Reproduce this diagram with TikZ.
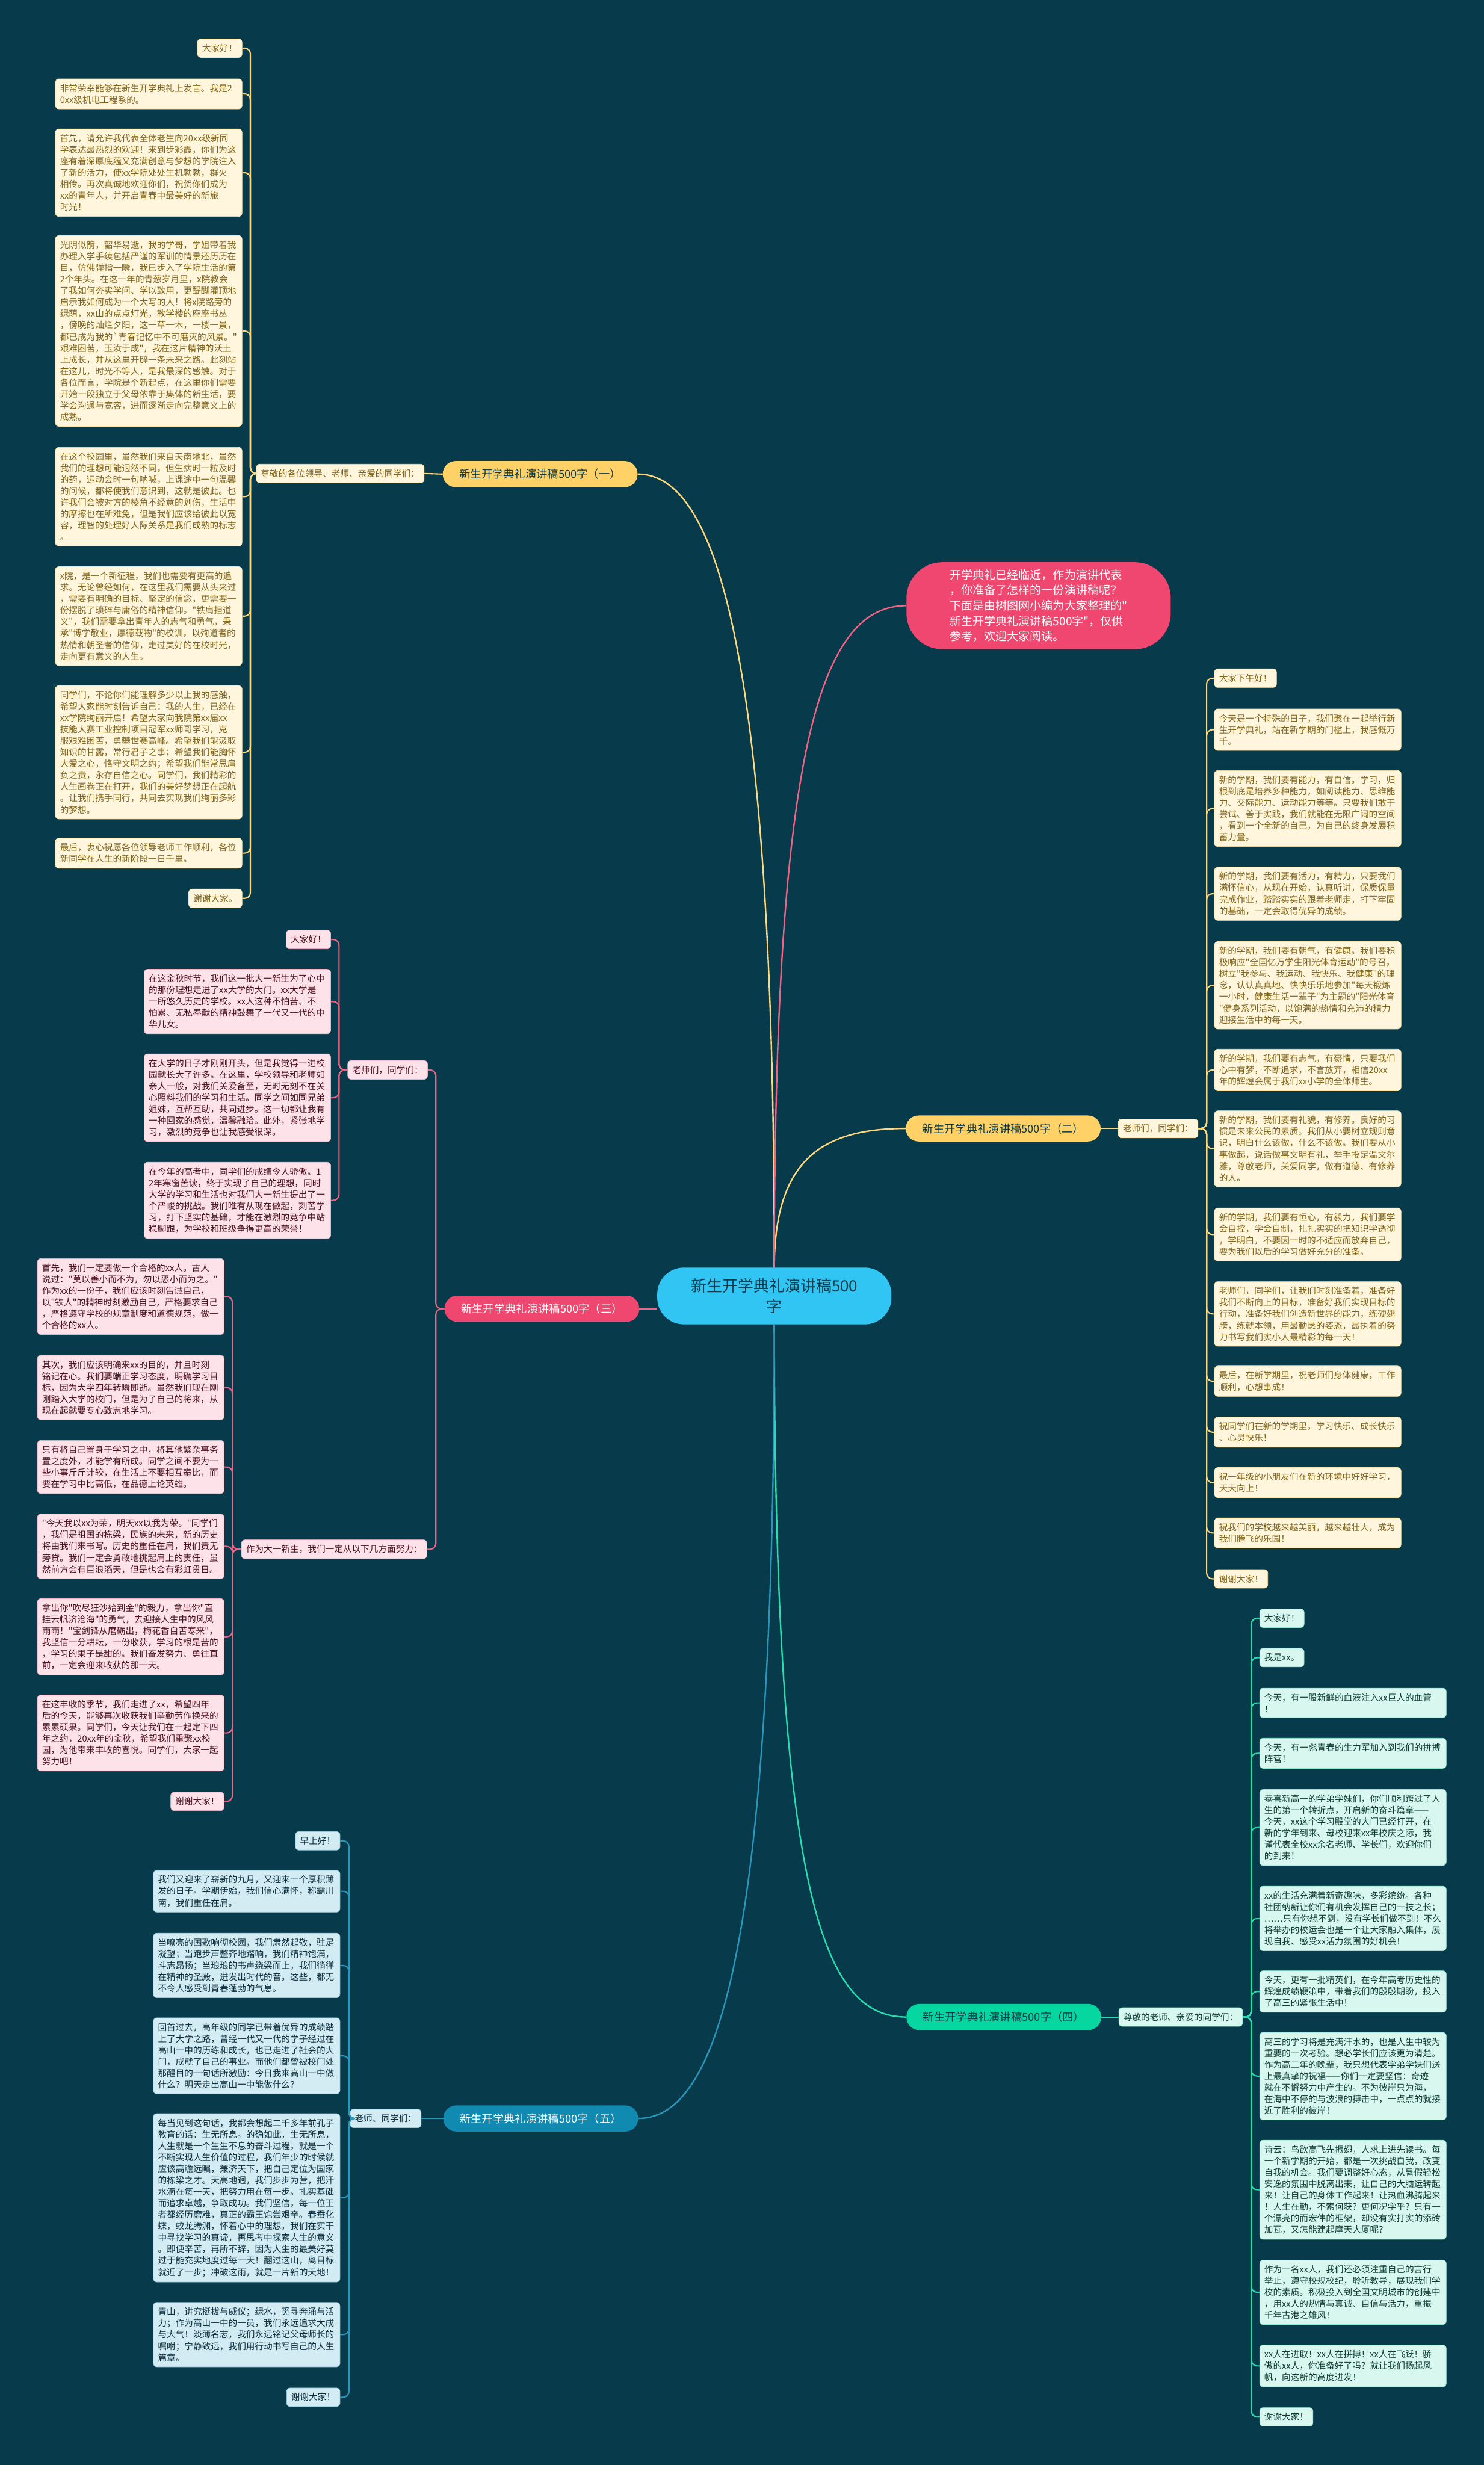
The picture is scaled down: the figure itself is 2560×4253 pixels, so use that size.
\documentclass[tikz,border=0pt]{standalone}
\usepackage{fontspec}
\newfontfamily\cjk{Noto Sans CJK SC}
\definecolor{bg}{HTML}{073B4C}
\definecolor{yel}{HTML}{FFD166}
\definecolor{pnk}{HTML}{EF476F}
\definecolor{grn}{HTML}{06D6A0}
\definecolor{blu}{HTML}{118AB2}
\definecolor{ctr}{HTML}{30C5F3}
\definecolor{yfill}{HTML}{FFF6DD}
\definecolor{ytext}{HTML}{7F6418}
\definecolor{pfill}{HTML}{FDE3E9}
\definecolor{ptext}{HTML}{4A1020}
\definecolor{gfill}{HTML}{D8F8EF}
\definecolor{gtext}{HTML}{0E3B35}
\definecolor{bfill}{HTML}{D3EBF3}
\definecolor{btext}{HTML}{0B2E3D}
\newcommand\fleaf{\cjk\fontsize{15.2}{19.8}\selectfont}
\newcommand\fbr{\cjk\fontsize{19}{24}\selectfont}
\newcommand\fctr{\cjk\fontsize{27}{35}\selectfont}
\newcommand\fintro{\cjk\fontsize{19.8}{26.6}\selectfont}
\tikzset{
  leafbase/.style={rectangle, rounded corners=6pt, inner xsep=8pt, inner ysep=9pt, align=left, font=\fleaf, line width=0.8pt},
  wide/.style={text width=306pt},
  yl/.style={leafbase, fill=yfill, draw=yel!55!yfill, text=ytext},
  pl/.style={leafbase, fill=pfill, draw=pnk!35!pfill, text=ptext},
  gl/.style={leafbase, fill=gfill, draw=grn!35!gfill, text=gtext},
  bl/.style={leafbase, fill=bfill, draw=blu!35!bfill, text=btext},
  brnode/.style={rectangle, rounded corners=22pt, minimum height=45pt, minimum width=336pt, inner sep=0pt, font=\fbr},
  yc/.style={draw=yel!85!white, line width=2.2pt, rounded corners=10pt},
  pc/.style={draw=pnk!85!white, line width=2.2pt, rounded corners=10pt},
  gc/.style={draw=grn!85!white, line width=2.2pt, rounded corners=10pt},
  bc/.style={draw=blu!90!white, line width=2.2pt, rounded corners=10pt},
}
\begin{document}
\begin{tikzpicture}[x=1pt,y=-1pt]
\fill[bg] (0,0) rectangle (2560,4253);
\useasboundingbox (0,0) rectangle (2560,4253);

% ---------- main nodes
\node[rectangle, rounded corners=46pt, fill=ctr, minimum width=404pt, minimum height=98pt, align=center, font=\fctr, text=bg] (c) at (1336,2236) {新生开学典礼演讲稿500\\字};
\node[rectangle, rounded corners=62pt, fill=pnk, minimum width=456pt, minimum height=150pt, align=left, font=\fintro, text=white] (intro) at (1792,1045) {开学典礼已经临近，作为演讲代表\\，你准备了怎样的一份演讲稿呢？\\下面是由树图网小编为大家整理的"\\新生开学典礼演讲稿500字"，仅供\\参考，欢迎大家阅读。};
\node[brnode, fill=yel, text=bg] (b1) at (932,818) {新生开学典礼演讲稿500字（一）};
\node[brnode, fill=yel, text=bg] (b2) at (1731,1947) {新生开学典礼演讲稿500字（二）};
\node[brnode, fill=pnk, text=white] (b3) at (935,2258) {新生开学典礼演讲稿500字（三）};
\node[brnode, fill=grn, text=bg] (b4) at (1732,3480) {新生开学典礼演讲稿500字（四）};
\node[brnode, fill=blu, text=white] (b5) at (933,3655) {新生开学典礼演讲稿500字（五）};

\draw[yel!85!white, line width=2.5pt] (c.north) .. controls +(0,-1090) and +(130,0) .. (b1.east);
\draw[yel!85!white, line width=2.5pt] (c.north) .. controls +(0,-186) and +(-144,0) .. (b2.west);
\draw[pnk!85!white, line width=2.5pt] (c.north) .. controls +(0,-890) and +(-150,0) .. (intro.west);
\draw[pnk!85!white, line width=2.5pt] (b3.east) -- (b3.east -| c.west);
\draw[grn!85!white, line width=2.5pt] (c.south) .. controls +(0,1000) and +(-140,0) .. (b4.west);
\draw[blu!90!white, line width=2.5pt] (c.south) .. controls +(0,1110) and +(130,0) .. (b5.east);

% ---------- branch 1
\node[yl] (lab1) at (587,817) {尊敬的各位领导、老师、亲爱的同学们：};
\draw[yc] (b1.west) -- (lab1.east);
\coordinate (sp1) at (432,0);
\node[yl, anchor=east] (b1l1) at (418,83) {大家好！};
\node[yl, wide, anchor=east] (b1l2) at (418,162) {非常荣幸能够在新生开学典礼上发言。我是2\\0xx级机电工程系的。};
\node[yl, wide, anchor=east] (b1l3) at (418,298) {首先，请允许我代表全体老生向20xx级新同\\学表达最热烈的欢迎！来到步彩霞，你们为这\\座有着深厚底蕴又充满创意与梦想的学院注入\\了新的活力，使xx学院处处生机勃勃，群火\\相传。再次真诚地欢迎你们，祝贺你们成为\\xx的青年人，并开启青春中最美好的新旅\\时光！};
\node[yl, wide, anchor=east] (b1l4) at (418,571) {光阴似箭，韶华易逝，我的学哥，学姐带着我\\办理入学手续包括严谨的军训的情景还历历在\\目，仿佛弹指一瞬，我已步入了学院生活的第\\2个年头。在这一年的青葱岁月里，x院教会\\了我如何夯实学问、学以致用，更醍醐灌顶地\\启示我如何成为一个大写的人！将x院路旁的\\绿荫，xx山的点点灯光，教学楼的座座书丛\\，傍晚的灿烂夕阳，这一草一木，一楼一景，\\都已成为我的`青春记忆中不可磨灭的风景。"\\艰难困苦，玉汝于成"，我在这片精神的沃土\\上成长，并从这里开辟一条未来之路。此刻站\\在这儿，时光不等人，是我最深的感触。对于\\各位而言，学院是个新起点，在这里你们需要\\开始一段独立于父母依靠于集体的新生活，要\\学会沟通与宽容，进而逐渐走向完整意义上的\\成熟。};
\node[yl, wide, anchor=east] (b1l5) at (418,857) {在这个校园里，虽然我们来自天南地北，虽然\\我们的理想可能迥然不同，但生病时一粒及时\\的药，运动会时一句呐喊，上课途中一句温馨\\的问候，都将使我们意识到，这就是彼此。也\\许我们会被对方的棱角不经意的划伤，生活中\\的摩擦也在所难免，但是我们应该给彼此以宽\\容，理智的处理好人际关系是我们成熟的标志\\。};
\node[yl, wide, anchor=east] (b1l6) at (418,1063) {x院，是一个新征程，我们也需要有更高的追\\求。无论曾经如何，在这里我们需要从头来过\\，需要有明确的目标、坚定的信念，更需要一\\份摆脱了琐碎与庸俗的精神信仰。"铁肩担道\\义"，我们需要拿出青年人的志气和勇气，秉\\承"博学敬业，厚德载物"的校训，以殉道者的\\热情和朝圣者的信仰，走过美好的在校时光，\\走向更有意义的人生。};
\node[yl, wide, anchor=east] (b1l7) at (418,1298) {同学们，不论你们能理解多少以上我的感触，\\希望大家能时刻告诉自己：我的人生，已经在\\xx学院绚丽开启！希望大家向我院第xx届xx\\技能大赛工业控制项目冠军xx师哥学习，克\\服艰难困苦，勇攀世赛高峰。希望我们能汲取\\知识的甘露，常行君子之事；希望我们能胸怀\\大爱之心，恪守文明之约；希望我们能常思肩\\负之责，永存自信之心。同学们，我们精彩的\\人生画卷正在打开，我们的美好梦想正在起航\\。让我们携手同行，共同去实现我们绚丽多彩\\的梦想。};
\node[yl, wide, anchor=east] (b1l8) at (418,1472) {最后，衷心祝愿各位领导老师工作顺利，各位\\新同学在人生的新阶段一日千里。};
\node[yl, anchor=east] (b1l9) at (418,1550) {谢谢大家。};
\foreach \i in {1,...,9} \draw[yc] (lab1.west) -- (lab1.west -| sp1) |- (b1l\i.east);

% ---------- branch 2
\node[yl, anchor=west] (lab2) at (1929,1947) {老师们，同学们：};
\draw[yc] (b2.east) -- (lab2.west);
\coordinate (sp2) at (2082,0);
\node[yl, anchor=west] (b2l1) at (2095,1170) {大家下午好！};
\node[yl, wide, anchor=west] (b2l2) at (2095,1259) {今天是一个特殊的日子，我们聚在一起举行新\\生开学典礼，站在新学期的门槛上，我感慨万\\千。};
\node[yl, wide, anchor=west] (b2l3) at (2095,1395) {新的学期，我们要有能力，有自信。学习，归\\根到底是培养多种能力，如阅读能力、思维能\\力、交际能力、运动能力等等。只要我们敢于\\尝试、善于实践，我们就能在无限广阔的空间\\，看到一个全新的自己，为自己的终身发展积\\蓄力量。};
\node[yl, wide, anchor=west] (b2l4) at (2095,1542) {新的学期，我们要有活力，有精力，只要我们\\满怀信心，从现在开始，认真听讲，保质保量\\完成作业，踏踏实实的跟着老师走，打下牢固\\的基础，一定会取得优异的成绩。};
\node[yl, wide, anchor=west] (b2l5) at (2095,1700) {新的学期，我们要有朝气，有健康。我们要积\\极响应"全国亿万学生阳光体育运动"的号召，\\树立"我参与、我运动、我快乐、我健康"的理\\念，认认真真地、快快乐乐地参加"每天锻炼\\一小时，健康生活一辈子"为主题的"阳光体育\\"健身系列活动，以饱满的热情和充沛的精力\\迎接生活中的每一天。};
\node[yl, wide, anchor=west] (b2l6) at (2095,1846) {新的学期，我们要有志气，有豪情，只要我们\\心中有梦，不断追求，不言放弃，相信20xx\\年的辉煌会属于我们xx小学的全体师生。};
\node[yl, wide, anchor=west] (b2l7) at (2095,1982) {新的学期，我们要有礼貌，有修养。良好的习\\惯是未来公民的素质。我们从小要树立规则意\\识，明白什么该做，什么不该做。我们要从小\\事做起，说话做事文明有礼，举手投足温文尔\\雅，尊敬老师，关爱同学，做有道德、有修养\\的人。};
\node[yl, wide, anchor=west] (b2l8) at (2095,2130) {新的学期，我们要有恒心，有毅力，我们要学\\会自控，学会自制，扎扎实实的把知识学透彻\\，学明白，不要因一时的不适应而放弃自己，\\要为我们以后的学习做好充分的准备。};
\node[yl, wide, anchor=west] (b2l9) at (2095,2267) {老师们，同学们，让我们时刻准备着，准备好\\我们不断向上的目标，准备好我们实现目标的\\行动，准备好我们创造新世界的能力，练硬翅\\膀，练就本领，用最勤恳的姿态，最执着的努\\力书写我们实小人最精彩的每一天！};
\node[yl, wide, anchor=west] (b2l10) at (2095,2383) {最后，在新学期里，祝老师们身体健康，工作\\顺利，心想事成！};
\node[yl, wide, anchor=west] (b2l11) at (2095,2471) {祝同学们在新的学期里，学习快乐、成长快乐\\、心灵快乐！};
\node[yl, wide, anchor=west] (b2l12) at (2095,2558) {祝一年级的小朋友们在新的环境中好好学习，\\天天向上！};
\node[yl, wide, anchor=west] (b2l13) at (2095,2645) {祝我们的学校越来越美丽，越来越壮大，成为\\我们腾飞的乐园！};
\node[yl, anchor=west] (b2l14) at (2095,2724) {谢谢大家！};
\foreach \i in {1,...,14} \draw[yc] (lab2.east) -- (lab2.east -| sp2) |- (b2l\i.west);

% ---------- branch 3
\coordinate (sp3) at (752,0);
\node[pl, anchor=east] (lab3a) at (738,1846) {老师们，同学们：};
\node[pl, anchor=east] (lab3b) at (737,2673) {作为大一新生，我们一定从以下几方面努力：};
\draw[pc] (b3.west) -- (b3.west -| sp3) |- (lab3a.east);
\draw[pc] (b3.west) -- (b3.west -| sp3) |- (lab3b.east);
\coordinate (sp3a) at (585,0);
\node[pl, anchor=east] (b3a1) at (571,1621) {大家好！};
\node[pl, wide, anchor=east] (b3a2) at (571,1728) {在这金秋时节，我们这一批大一新生为了心中\\的那份理想走进了xx大学的大门。xx大学是\\一所悠久历史的学校。xx人这种不怕苦、不\\怕累、无私奉献的精神鼓舞了一代又一代的中\\华儿女。};
\node[pl, wide, anchor=east] (b3a3) at (571,1894) {在大学的日子才刚刚开头，但是我觉得一进校\\园就长大了许多。在这里，学校领导和老师如\\亲人一般，对我们关爱备至，无时无刻不在关\\心照料我们的学习和生活。同学之间如同兄弟\\姐妹，互帮互助，共同进步。这一切都让我有\\一种回家的感觉，温馨融洽。此外，紧张地学\\习，激烈的竞争也让我感受很深。};
\node[pl, wide, anchor=east] (b3a4) at (571,2071) {在今年的高考中，同学们的成绩令人骄傲。1\\2年寒窗苦读，终于实现了自己的理想，同时\\大学的学习和生活也对我们大一新生提出了一\\个严峻的挑战。我们唯有从现在做起，刻苦学\\习，打下坚实的基础，才能在激烈的竞争中站\\稳脚跟，为学校和班级争得更高的荣誉！};
\foreach \i in {1,...,4} \draw[pc] (lab3a.west) -- (lab3a.west -| sp3a) |- (b3a\i.east);
\coordinate (sp3b) at (401,0);
\node[pl, wide, anchor=east] (b3b1) at (387,2237) {首先，我们一定要做一个合格的xx人。古人\\说过："莫以善小而不为，勿以恶小而为之。"\\作为xx的一份子，我们应该时刻告诫自己，\\以"铁人"的精神时刻激励自己，严格要求自己\\，严格遵守学校的规章制度和道德规范，做一\\个合格的xx人。};
\node[pl, wide, anchor=east] (b3b2) at (387,2394) {其次，我们应该明确来xx的目的，并且时刻\\铭记在心。我们要端正学习态度，明确学习目\\标，因为大学四年转瞬即逝。虽然我们现在刚\\刚踏入大学的校门，但是为了自己的将来，从\\现在起就要专心致志地学习。};
\node[pl, wide, anchor=east] (b3b3) at (387,2531) {只有将自己置身于学习之中，将其他繁杂事务\\置之度外，才能学有所成。同学之间不要为一\\些小事斤斤计较，在生活上不要相互攀比，而\\要在学习中比高低，在品德上论英雄。};
\node[pl, wide, anchor=east] (b3b4) at (387,2668) {"今天我以xx为荣，明天xx以我为荣。"同学们\\，我们是祖国的栋梁，民族的未来，新的历史\\将由我们来书写。历史的重任在肩，我们责无\\旁贷。我们一定会勇敢地挑起肩上的责任，虽\\然前方会有巨浪滔天，但是也会有彩虹贯日。};
\node[pl, wide, anchor=east] (b3b5) at (387,2824) {拿出你"吹尽狂沙始到金"的毅力，拿出你"直\\挂云帆济沧海"的勇气，去迎接人生中的风风\\雨雨！"宝剑锋从磨砺出，梅花香自苦寒来"，\\我坚信一分耕耘，一份收获，学习的根是苦的\\，学习的果子是甜的。我们奋发努力、勇往直\\前，一定会迎来收获的那一天。};
\node[pl, wide, anchor=east] (b3b6) at (387,2990) {在这丰收的季节，我们走进了xx，希望四年\\后的今天，能够再次收获我们辛勤劳作换来的\\累累硕果。同学们，今天让我们在一起定下四\\年之约，20xx年的金秋，希望我们重聚xx校\\园，为他带来丰收的喜悦。同学们，大家一起\\努力吧！};
\node[pl, anchor=east] (b3b7) at (387,3108) {谢谢大家！};
\foreach \i in {1,...,7} \draw[pc] (lab3b.west) -- (lab3b.west -| sp3b) |- (b3b\i.east);

% ---------- branch 4
\node[gl, anchor=west] (lab4) at (1930,3480) {尊敬的老师、亲爱的同学们：};
\draw[gc] (b4.east) -- (lab4.west);
\coordinate (sp4) at (2159,0);
\node[gl, anchor=west] (b4l1) at (2173,2792) {大家好！};
\node[gl, anchor=west] (b4l2) at (2173,2860) {我是xx。};
\node[gl, wide, anchor=west] (b4l3) at (2173,2938) {今天，有一股新鲜的血液注入xx巨人的血管\\！};
\node[gl, wide, anchor=west] (b4l4) at (2173,3025) {今天，有一彪青春的生力军加入到我们的拼搏\\阵营！};
\node[gl, wide, anchor=west] (b4l5) at (2173,3153) {恭喜新高一的学弟学妹们，你们顺利跨过了人\\生的第一个转折点，开启新的奋斗篇章——\\今天，xx这个学习殿堂的大门已经打开，在\\新的学年到来、母校迎来xx年校庆之际，我\\谨代表全校xx余名老师、学长们，欢迎你们\\的到来！};
\node[gl, wide, anchor=west] (b4l6) at (2173,3310) {xx的生活充满着新奇趣味，多彩缤纷。各种\\社团纳新让你们有机会发挥自己的一技之长；\\……只有你想不到，没有学长们做不到！不久\\将举办的校运会也是一个让大家融入集体，展\\现自我、感受xx活力氛围的好机会！};
\node[gl, wide, anchor=west] (b4l7) at (2173,3436) {今天，更有一批精英们，在今年高考历史性的\\辉煌成绩鞭策中，带着我们的殷殷期盼，投入\\了高三的紧张生活中！};
\node[gl, wide, anchor=west] (b4l8) at (2173,3582) {高三的学习将是充满汗水的，也是人生中较为\\重要的一次考验。想必学长们应该更为清楚。\\作为高二年的晚辈，我只想代表学弟学妹们送\\上最真挚的祝福——你们一定要坚信：奇迹\\就在不懈努力中产生的。不为彼岸只为海，\\在海中不停的与波浪的搏击中，一点点的就接\\近了胜利的彼岸！};
\node[gl, wide, anchor=west] (b4l9) at (2173,3778) {诗云：鸟欲高飞先振翅，人求上进先读书。每\\一个新学期的开始，都是一次挑战自我，改变\\自我的机会。我们要调整好心态，从暑假轻松\\安逸的氛围中脱离出来，让自己的大脑运转起\\来！让自己的身体工作起来！让热血沸腾起来\\！人生在勤，不索何获？更何况学乎？只有一\\个漂亮的而宏伟的框架，却没有实打实的添砖\\加瓦，又怎能建起摩天大厦呢？};
\node[gl, wide, anchor=west] (b4l10) at (2173,3955) {作为一名xx人，我们还必须注重自己的言行\\举止，遵守校规校纪，聆听教导，展现我们学\\校的素质。积极投入到全国文明城市的创建中\\，用xx人的热情与真诚、自信与活力，重振\\千年古港之雄风！};
\node[gl, wide, anchor=west] (b4l11) at (2173,4082) {xx人在进取！xx人在拼搏！xx人在飞跃！骄\\傲的xx人，你准备好了吗？就让我们扬起风\\帆，向这新的高度进发！};
\node[gl, anchor=west] (b4l12) at (2173,4170) {谢谢大家！};
\foreach \i in {1,...,12} \draw[gc] (lab4.east) -- (lab4.east -| sp4) |- (b4l\i.west);

% ---------- branch 5
\node[bl, anchor=east] (lab5) at (727,3655) {老师、同学们：};
\draw[bc] (b5.west) -- (lab5.east);
\coordinate (sp5) at (602,0);
\node[bl, anchor=east] (b5l1) at (587,3176) {早上好！};
\node[bl, wide, anchor=east] (b5l2) at (587,3263) {我们又迎来了崭新的九月，又迎来一个厚积薄\\发的日子。学期伊始，我们信心满怀，称霸川\\南，我们重任在肩。};
\node[bl, wide, anchor=east] (b5l3) at (587,3391) {当嘹亮的国歌响彻校园，我们肃然起敬，驻足\\凝望；当跑步声整齐地踏响，我们精神饱满，\\斗志昂扬；当琅琅的书声绕梁而上，我们徜徉\\在精神的圣殿，迸发出时代的音。这些，都无\\不令人感受到青春蓬勃的气息。};
\node[bl, wide, anchor=east] (b5l4) at (587,3547) {回首过去，高年级的同学已带着优异的成绩踏\\上了大学之路，曾经一代又一代的学子经过在\\高山一中的历练和成长，也已走进了社会的大\\门，成就了自己的事业。而他们都曾被校门处\\那醒目的一句话所激励：今日我来高山一中做\\什么？明天走出高山一中能做什么？};
\node[bl, wide, anchor=east] (b5l5) at (587,3792) {每当见到这句话，我都会想起二千多年前孔子\\教育的话：生无所息。的确如此，生无所息，\\人生就是一个生生不息的奋斗过程，就是一个\\不断实现人生价值的过程，我们年少的时候就\\应该高瞻远瞩，兼济天下，把自己定位为国家\\的栋梁之才。天高地迥，我们步步为营，把汗\\水滴在每一天，把努力用在每一步。扎实基础\\而追求卓越，争取成功。我们坚信，每一位王\\者都经历磨难，真正的霸王饱尝艰辛。春蚕化\\蝶，蛟龙腾渊，怀着心中的理想，我们在实干\\中寻找学习的真谛，再思考中探索人生的意义\\。即便辛苦，再所不辞，因为人生的最美好莫\\过于能充实地度过每一天！翻过这山，离目标\\就近了一步；冲破这雨，就是一片新的天地！};
\node[bl, wide, anchor=east] (b5l6) at (587,4028) {青山，讲究挺拔与威仪；绿水，觅寻奔涌与活\\力；作为高山一中的一员，我们永远追求大成\\与大气！淡薄名志，我们永远铭记父母师长的\\嘱咐；宁静致远，我们用行动书写自己的人生\\篇章。};
\node[bl, anchor=east] (b5l7) at (587,4136) {谢谢大家！};
\foreach \i in {1,...,7} \draw[bc] (lab5.west) -- (lab5.west -| sp5) |- (b5l\i.east);
\end{tikzpicture}
\end{document}
